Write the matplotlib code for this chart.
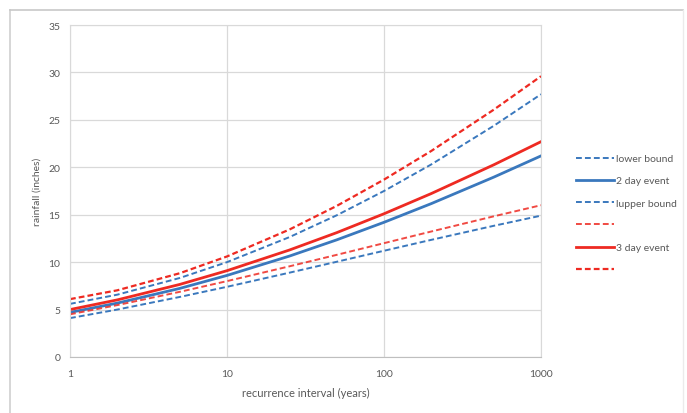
import numpy as np
import matplotlib
matplotlib.use('Agg')
import matplotlib.pyplot as plt
from matplotlib.lines import Line2D

# recurrence interval (years)
years = [1, 2, 5, 10, 25, 50, 100, 200, 500, 1000]

# 2 day event (blue)
lower_2day = [4.1, 5.0, 6.33, 7.4, 8.89, 10.04, 11.2, 12.35, 13.83, 14.9]
mean_2day = [4.7, 5.68, 7.23, 8.6, 10.64, 12.35, 14.2, 16.17, 18.96, 21.2]
upper_2day = [5.6, 6.57, 8.33, 10.0, 12.64, 14.94, 17.5, 20.3, 24.37, 27.7]

# 3 day event (red)
lower_3day = [4.5, 5.47, 6.87, 8.0, 9.56, 10.77, 12.0, 13.23, 14.83, 16.0]
mean_3day = [5.0, 6.02, 7.65, 9.1, 11.28, 13.11, 15.1, 17.23, 20.26, 22.7]
upper_3day = [6.1, 7.03, 8.83, 10.6, 13.44, 15.93, 18.7, 21.72, 26.07, 29.6]

labels = ['lower bound', '2 day event', 'lupper bound', ' ', '3 day event', ' ']

blue = '#3A78BD'
red = '#EE2A22'
txt = '#595959'

plt.rcParams['font.family'] = ['Lato', 'DejaVu Sans']

fig = plt.figure(figsize=(6.87, 4.14), dpi=100)
ax = fig.add_axes([70/687, 1 - 358/414, (541-70)/687, (358-26)/414])

ax.plot(years, lower_2day, color=blue, linestyle=(0, (3, 1.6)), lw=1.4, label=labels[0])
ax.plot(years, mean_2day, color=blue, lw=2.0, label=labels[1])
ax.plot(years, upper_2day, color=blue, linestyle=(0, (3, 1.6)), lw=1.4, label=labels[2])
ax.plot(years, lower_3day, color=red, linestyle=(0, (3, 1.6)), lw=1.4, alpha=0.85, label=labels[3])
ax.plot(years, mean_3day, color=red, lw=2.0, label=labels[4])
ax.plot(years, upper_3day, color=red, linestyle=(0, (2.6, 1.4)), lw=1.6, label=labels[5])

ax.set_xscale('log')
ax.set_xlim(1, 1000)
ax.set_ylim(0, 35)
ax.set_xticks([1, 10, 100, 1000])
ax.set_xticklabels(['1', '10', '100', '1000'])
ax.set_yticks(range(0, 36, 5))
ax.minorticks_off()
ax.grid(True, color='#D9D9D9', lw=0.9)
ax.set_axisbelow(True)
for side in ['top', 'right', 'left']:
    ax.spines[side].set_color('#D9D9D9')
ax.spines['bottom'].set_color('#BFBFBF')
ax.tick_params(length=0, colors=txt, labelsize=7.5)
ax.tick_params(axis='x', pad=9)
ax.tick_params(axis='y', pad=7)
ax.set_xlabel('recurrence interval (years)', color=txt, fontsize=8, labelpad=6)
ax.set_ylabel('rainfall (inches)', color=txt, fontsize=7.5, labelpad=5)

leg = ax.legend(loc='upper left', bbox_to_anchor=(1.055, 0.64), frameon=False,
                fontsize=7.5, handlelength=3.6, handletextpad=0.2, labelspacing=1.25)
for t in leg.get_texts():
    t.set_color(txt)

# outer chart border
fig.add_artist(Line2D([10/687, 10/687], [0, 1 - 11/414], color='#D0D0D0', lw=1.2, transform=fig.transFigure))
fig.add_artist(Line2D([10/687, 683/687], [1 - 11/414, 1 - 11/414], color='#C8C8C8', lw=1.2, transform=fig.transFigure))
fig.add_artist(Line2D([683/687, 683/687], [0, 1 - 11/414], color='#EBEBEB', lw=1.0, transform=fig.transFigure))

fig.savefig('out.png', dpi=100)
